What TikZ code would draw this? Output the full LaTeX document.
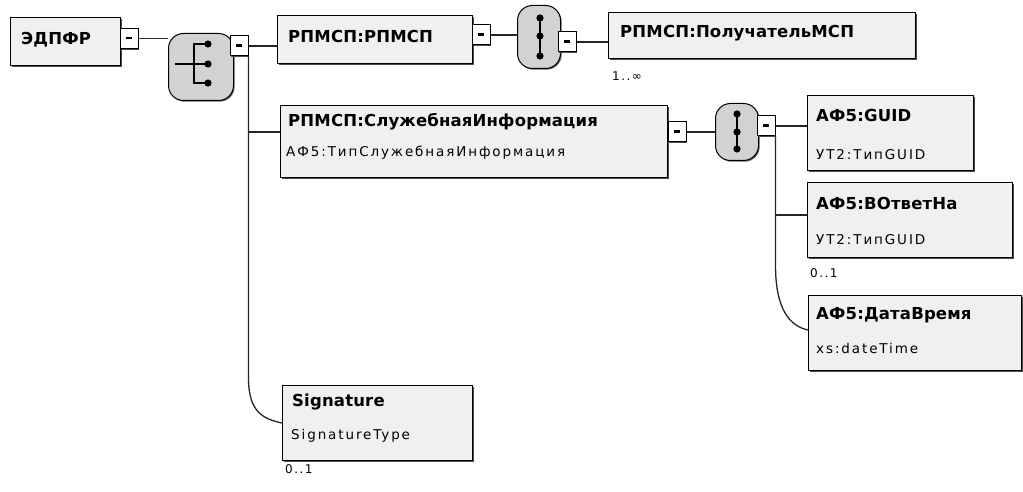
\documentclass[tikz,border=0pt]{standalone}
\usepackage{fontspec}
\setmainfont{DejaVu Sans}
\newfontfamily\ttlfont[LetterSpace=1]{DejaVu Sans}
\newfontfamily\subfnt[LetterSpace=14]{DejaVu Sans}
\newfontfamily\cardfnt[LetterSpace=12]{DejaVu Sans}
\usetikzlibrary{shadows,calc}
\tikzset{
  px/.style={x=1pt,y=-1pt},
  boxst/.style={draw=black, line width=1.1pt, fill=gray!12, inner sep=0pt, anchor=north west,
    drop shadow={shadow xshift=1.6pt, shadow yshift=-1.6pt, fill=black!70, opacity=1}},
  tabst/.style={draw=black, line width=1pt, fill=white, inner sep=0pt, minimum width=18pt, minimum height=20pt,
    drop shadow={shadow xshift=1.2pt, shadow yshift=-1.2pt, fill=black!70, opacity=1}},
  iconst/.style={draw=black, line width=1pt, fill=gray!35, inner sep=0pt, rounded corners=15pt, anchor=north west,
    drop shadow={shadow xshift=1.2pt, shadow yshift=-1.2pt, fill=black!60, opacity=1}},
  ttl/.style={font=\ttlfont\bfseries\fontsize{16.5}{18}\selectfont, anchor=west, inner sep=0pt},
  sub/.style={font=\subfnt\fontsize{13.5}{15}\selectfont, anchor=west, inner sep=0pt},
  card/.style={font=\cardfnt\fontsize{12}{14}\selectfont, anchor=west, inner sep=0pt},
  conn/.style={line width=1.3pt, draw=black!85},
  sym/.style={line width=1.8pt, draw=black},
}
\newcommand{\minusmark}{\rule[0.2ex]{6pt}{2.2pt}}
\begin{document}
\begin{tikzpicture}[px]
\useasboundingbox (0,0) rectangle (1023,492);
% boxes
\node[boxst, minimum width=110pt, minimum height=48pt] (edpfr) at (10,17) {};
\node[ttl] (tedpfr) at (21,40) {ЭДПФР};
\node[tabst] (tab1) at (129,38.5) {\minusmark};

\node[iconst, minimum width=65pt, minimum height=67pt] (ch) at (168,33) {};
\node[tabst] (tab2) at (239,46) {\minusmark};

\node[boxst, minimum width=195pt, minimum height=48pt] (rp) at (277,15) {};
\node[ttl] (trp) at (288,36) {РПМСП:РПМСП};
\node[tabst] (tab3) at (481,35) {\minusmark};

\node[iconst, minimum width=43pt, minimum height=63pt] (sq1) at (517,5) {};
\node[tabst] (tab4) at (567,42) {\minusmark};

\node[boxst, minimum width=307pt, minimum height=46pt] (pol) at (608,12) {};
\node[ttl] (tpol) at (620,33) {РПМСП:ПолучательМСП};
\node[card] (cpol) at (612,76) {1..∞};

\node[boxst, minimum width=387pt, minimum height=72pt] (slu) at (280,105) {};
\node[ttl] (tslu) at (288,122) {РПМСП:СлужебнаяИнформация};
\node[sub] (sslu) at (286,153) {АФ5:ТипСлужебнаяИнформация};
\node[tabst] (tab5) at (677,132) {\minusmark};

\node[iconst, minimum width=43pt, minimum height=57pt] (sq2) at (715,103) {};
\node[tabst] (tab6) at (766,126) {\minusmark};

\node[boxst, minimum width=166pt, minimum height=75pt] (guid) at (807,95) {};
\node[ttl] (tguid) at (816,115) {АФ5:GUID};
\node[sub] (sguid) at (816,155) {УТ2:ТипGUID};

\node[boxst, minimum width=205pt, minimum height=75pt] (otv) at (807,182) {};
\node[ttl] (totv) at (816,203) {АФ5:ВОтветНа};
\node[sub] (sotv) at (816,240) {УТ2:ТипGUID};
\node[card] (cotv) at (810,273) {0..1};

\node[boxst, minimum width=213pt, minimum height=75pt] (dt) at (808,295) {};
\node[ttl] (tdt) at (816,315) {АФ5:ДатаВремя};
\node[sub] (sdt) at (816,348) {xs:dateTime};

\node[boxst, minimum width=190pt, minimum height=75pt] (sig) at (282,385) {};
\node[ttl] (tsig) at (292,402) {Signature};
\node[sub] (ssig) at (291,436) {SignatureType};
\node[card] (csig) at (285,469) {0..1};

% choice symbol
\draw[sym] ($(ch.center)+(-26,-3)$) -- ($(ch.center)+(-7,-3)$);
\draw[sym] ($(ch.center)+(7,-23)$) -- ($(ch.center)+(-7,-23)$) -- ($(ch.center)+(-7,16)$) -- ($(ch.center)+(7,16)$);
\draw[sym] ($(ch.center)+(-7,-3)$) -- ($(ch.center)+(7,-3)$);
\foreach \dy in {-23,-3,16} \fill ($(ch.center)+(7,\dy)$) circle (3.6pt);
% sequence symbols
\draw[sym] ($(sq1.center)+(1,-19)$) -- ($(sq1.center)+(1,19)$);
\foreach \dy in {-19,-1,19} \fill ($(sq1.center)+(1,\dy)$) circle (3.6pt);
\draw[sym] ($(sq2.center)+(0,-18)$) -- ($(sq2.center)+(0,17)$);
\foreach \dy in {-18,0,17} \fill ($(sq2.center)+(0,\dy)$) circle (3.6pt);

% connectors
\coordinate (sigin) at (282,423);
\coordinate (dtin) at (808,330);
\draw[conn] (tab1.east) -- (tab1.east -| ch.west);
\draw[conn] (tab2.east) -- (tab2.east -| rp.west);
\draw[conn] (tab2.south east) -- ($(tab2.south east |- sigin)+(0,-45)$)
   .. controls ($(tab2.south east |- sigin)+(0,-10)$) and ($(sigin)+(-18,-4)$) .. (sigin);
\draw[conn] ($(tab2.south east |- slu.north)+(0,27)$) -- ($(slu.north west)+(0,27)$);
\draw[conn] (tab3.east) -- (tab3.east -| sq1.west);
\draw[conn] (tab4.east) -- (tab4.east -| pol.west);
\draw[conn] (tab5.east) -- (tab5.east -| sq2.west);
\draw[conn] (tab6.east) -- (tab6.east -| guid.west);
\draw[conn] (tab6.south east) -- ($(tab6.south east |- dtin)+(0,-65)$)
   .. controls ($(tab6.south east |- dtin)+(0,-20)$) and ($(dtin)+(-18,-4)$) .. (dtin);
\draw[conn] ($(tab6.south east |- otv.north)+(0,33)$) -- ($(otv.north west)+(0,33)$);
\end{tikzpicture}
\end{document}
